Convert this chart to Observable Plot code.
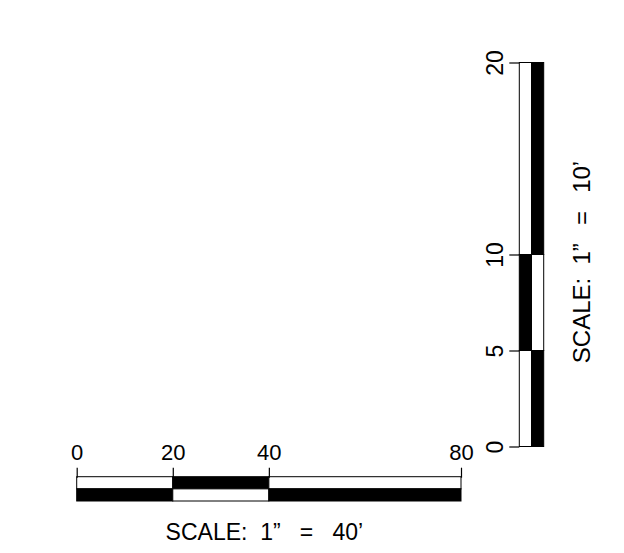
<!DOCTYPE html>
<html>
<head>
<meta charset="utf-8">
<script src="https://cdn.jsdelivr.net/npm/d3@7"></script>
<script src="https://cdn.jsdelivr.net/npm/@observablehq/plot@0.6"></script>
<style>
  html, body { margin: 0; padding: 0; background: white; }
  #wrap { position: relative; width: 624px; height: 553px; overflow: hidden; }
  #wrap svg { position: absolute; left: 0; top: 0; }
</style>
</head>
<body>
<div id="wrap"></div>
<script>
// Horizontal scale bar (feet)
const xTicks = [0, 20, 40, 80];
const xRows = ["upper", "lower"];
const xTitle = "SCALE:\u00A0\u00A01\u201D\u00A0\u00A0\u00A0=\u00A0\u00A0\u00A040\u2019";

// Vertical scale bar (feet)
const yTicks = [0, 5, 10, 20];
const yCols = ["left", "right"];
const yTitle = "SCALE:\u00A0\u00A01\u201D\u00A0\u00A0\u2009=\u00A0\u00A0\u200910\u2019";

const FONT = "'Liberation Sans', Arial, Helvetica, sans-serif";
const W = 624, H = 553;

function segments(ticks, groups) {
  const out = [];
  groups.forEach((g, gi) => {
    for (let i = 0; i < ticks.length - 1; i++) {
      out.push({g, a: ticks[i], b: ticks[i + 1], dark: (i + gi) % 2 === 1});
    }
  });
  return out;
}

const hSeg = segments(xTicks, xRows);
const vSeg = segments(yTicks, yCols);

const hPlot = Plot.plot({
  width: W, height: H,
  marginLeft: 76.7, marginRight: 163, marginTop: 476.7, marginBottom: 52,
  style: {background: "transparent", fontFamily: FONT},
  x: {domain: [0, 80], axis: null},
  y: {type: "band", domain: xRows, padding: 0, round: false, axis: null},
  marks: [
    Plot.barX(hSeg, {x1: "a", x2: "b", y: "g", fill: d => d.dark ? "black" : "white", stroke: "black", strokeWidth: 1}),
    Plot.axisX(xTicks, {anchor: "top", tickSize: 10, tickFormat: () => "", label: null, stroke: "black", strokeWidth: 1.2}),
    Plot.text(xTicks, {x: d => d, text: d => String(d), frameAnchor: "top", textAnchor: "middle", lineAnchor: "bottom", dy: -17, fontSize: 22, fill: "black"}),
    Plot.text([xTitle], {text: d => d, frameAnchor: "bottom", textAnchor: "middle", lineAnchor: "middle", dx: -5, dy: 31, fontSize: 23, fill: "black"})
  ]
});

const vPlot = Plot.plot({
  width: W, height: H,
  marginLeft: 519.3, marginRight: 80.3, marginTop: 62.5, marginBottom: 106.5,
  style: {background: "transparent", fontFamily: FONT},
  x: {type: "band", domain: yCols, padding: 0, round: false, axis: null},
  y: {domain: [0, 20], axis: null},
  marks: [
    Plot.barY(vSeg, {x: "g", y1: "a", y2: "b", fill: d => d.dark ? "black" : "white", stroke: "black", strokeWidth: 1}),
    Plot.axisY(yTicks, {anchor: "left", tickSize: 10, tickFormat: () => "", label: null, stroke: "black", strokeWidth: 1.2}),
    Plot.text(yTicks, {y: d => d, text: d => String(d), frameAnchor: "left", textAnchor: "middle", lineAnchor: "middle", dx: -24, rotate: -90, fontSize: 23, fill: "black"}),
    Plot.text([yTitle], {text: d => d, frameAnchor: "right", textAnchor: "middle", lineAnchor: "middle", dx: 38, dy: 7, rotate: -90, fontSize: 24, fill: "black"})
  ]
});

const wrap = document.getElementById("wrap");
wrap.appendChild(hPlot);
wrap.appendChild(vPlot);
</script>
</body>
</html>
